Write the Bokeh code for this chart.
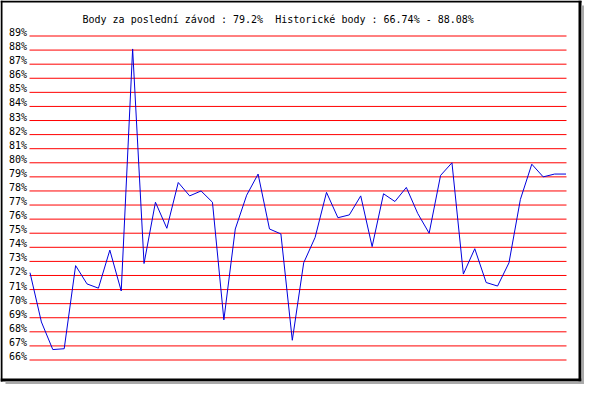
from bokeh.plotting import figure
from bokeh.models import Range1d, ColumnDataSource
from bokeh.core.properties import value
from bokeh.embed import file_html
from bokeh.resources import INLINE

# ---- data ----
scores = [72.2, 68.7, 66.74, 66.8, 72.7, 71.4, 71.1, 73.8, 70.9, 88.08,
          72.85, 77.2, 75.35, 78.6, 77.65, 78.0, 77.2, 68.85, 75.3, 77.7,
          79.2, 75.3, 74.95, 67.4, 72.9, 74.7, 77.9, 76.1, 76.3, 77.65,
          74.05, 77.8, 77.25, 78.25, 76.4, 75.0, 79.1, 80.0, 72.1, 73.9,
          71.5, 71.25, 72.9, 77.4, 79.9, 79.0, 79.2, 79.2]
races = list(range(len(scores)))
tick_vals = list(range(66, 90))
tick_labels = [f"{v}%" for v in tick_vals]
title_text = "Body za poslední závod : 79.2%\u00a0 Historické body : 66.74% - 88.08%"

# ---- layout helpers (picture pixel -> data units) ----
N = len(scores)
X0PX, X1PX = 29.5, 565.5          # first / last race column
SX = (X1PX - X0PX) / (N - 1)
Y89, Y66 = 35.5, 359.5            # rows of 89% and 66% lines
SY = (Y66 - Y89) / (89 - 66)


def dx(px):
    return (px - X0PX) / SX


def dy(py):
    return 89 - (py - Y89) / SY


W, H = 584, 384
p = figure(width=W, height=H, output_backend="svg", toolbar_location=None,
           x_range=Range1d(dx(0), dx(W)), y_range=Range1d(dy(H), dy(0)),
           x_axis_type=None, y_axis_type=None, tools="", min_border=0)
p.min_border_left = p.min_border_right = p.min_border_top = p.min_border_bottom = 0
p.outline_line_color = None
p.background_fill_color = "white"
p.border_fill_color = "white"

# horizontal red lines
p.segment(x0=[dx(29)] * len(tick_vals), x1=[dx(566)] * len(tick_vals),
          y0=tick_vals, y1=tick_vals, line_color="#FF0000", line_width=1)

# y labels
p.text(x=[dx(26.5)] * len(tick_vals), y=[v + 3.5 / SY for v in tick_vals],
       text=tick_labels, text_align="right", text_baseline="alphabetic",
       text_font=value("DejaVu Sans Mono"), text_font_size="10px",
       text_color="black")

# data line
src = ColumnDataSource(dict(x=races, y=scores))
p.line("x", "y", source=src, line_color="#0000DD", line_width=1)

# title
p.text(x=[dx(82)], y=[dy(19)], text=[title_text], text_align="left",
       text_baseline="alphabetic", text_font=value("DejaVu Sans Mono"),
       text_font_size="10px", text_color="black")

# border (black) and shadow (gray)
blk = dict(left=[dx(0), dx(0), dx(578), dx(0)],
           right=[dx(2), dx(581), dx(581), dx(581)],
           top=[dy(0), dy(0), dy(0), dy(378)],
           bottom=[dy(381), dy(2), dy(381), dy(381)])
p.quad(**blk, fill_color="black", line_color=None)
gry = dict(left=[dx(581), dx(5)], right=[dx(584), dx(584)],
           top=[dy(5), dy(381)], bottom=[dy(384), dy(384)])
p.quad(**gry, fill_color="#AAAAAA", line_color=None)

open("out.html", "w").write(file_html(p, INLINE))
